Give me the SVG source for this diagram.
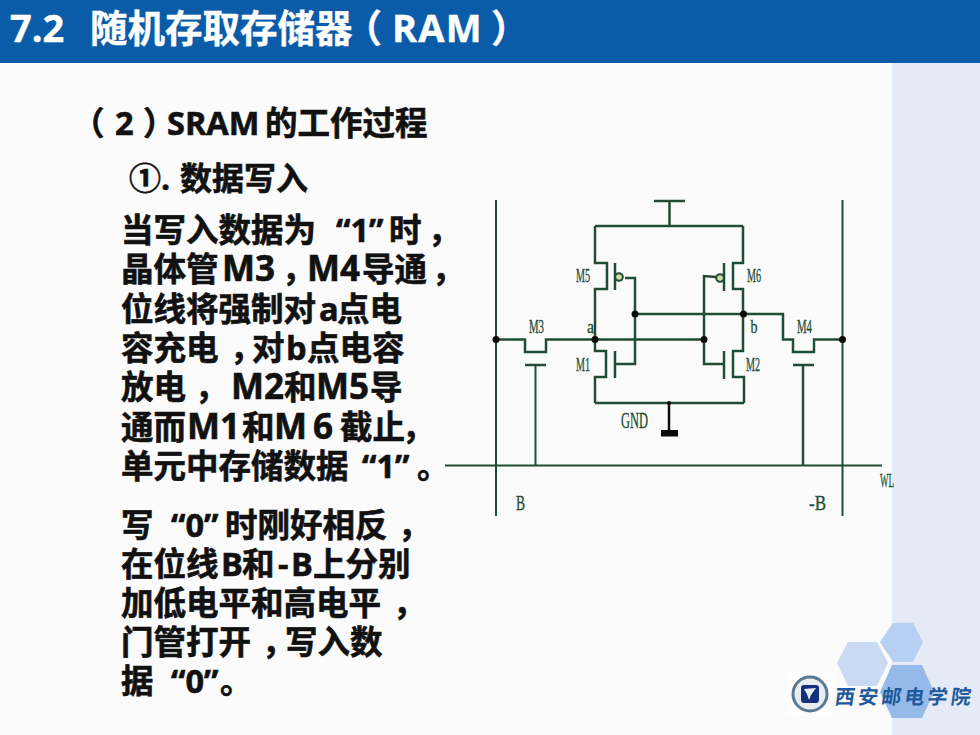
<svg xmlns="http://www.w3.org/2000/svg" width="980" height="735" viewBox="0 0 980 735">
<style>
text{white-space:pre}
.h{font-family:"Open Sans","Noto Sans CJK SC",sans-serif;font-weight:700;font-size:38px;fill:#fff;stroke:#fff;stroke-width:.4}
.t{font-family:"Open Sans","Noto Sans CJK SC",sans-serif;font-weight:700;fill:#111;stroke:#111;stroke-width:.6;font-size:32.500px}
.m{font-size:35px}
.w{fill:none;stroke:#1f4d35;stroke-width:2.500}
.n{fill:none;stroke:#1f4d35;stroke-width:2}
.l{font-family:"Liberation Serif","Noto Sans CJK SC",serif;font-size:19px;fill:#1f4d35;stroke:#1f4d35;stroke-width:.35}
.d{fill:#0a0a0a}
.b{fill:#d5dcb0;stroke:#1f4d35;stroke-width:2}
</style>
<rect width="980" height="735" fill="#fbfbfb"/>
<rect x="892" y="63" width="88" height="672" fill="#e4ebf7"/>
<rect width="980" height="63" fill="#0a5ca9"/>
<text class="h" y="42"><tspan x="10">7.2</tspan><tspan x="90" style="font-size:37.500px">随机存取存储器</tspan><tspan x="344">（</tspan><tspan x="392" style="letter-spacing:1.200px">RAM</tspan><tspan x="491">）</tspan></text>
<g id="body-text">
<text class="t" y="135"><tspan x="72">（</tspan><tspan x="115">2</tspan><tspan x="143">）</tspan><tspan x="167">SRAM</tspan><tspan x="265">的工作过程</tspan></text>
<text class="t" y="190" style="font-size:32px"><tspan x="129">①.</tspan><tspan x="180">数据写入</tspan></text>
<text class="t" y="242"><tspan x="121">当写入数据为</tspan><tspan x="336">“1”</tspan><tspan x="389">时</tspan><tspan x="428">，</tspan></text>
<text class="t" y="281"><tspan x="121">晶体管</tspan><tspan class="m" x="222">M3</tspan><tspan x="282">，</tspan><tspan class="m" x="307">M4</tspan><tspan x="362">导通</tspan><tspan x="432">，</tspan></text>
<text class="t" y="321"><tspan x="121">位线将强制对</tspan><tspan x="319">a</tspan><tspan x="337">点电</tspan></text>
<text class="t" y="360"><tspan x="121">容充电</tspan><tspan x="230">，</tspan><tspan x="252">对</tspan><tspan x="286">b</tspan><tspan x="307">点电容</tspan></text>
<text class="t" y="399"><tspan x="121">放电</tspan><tspan x="195">，</tspan><tspan class="m" x="231">M2</tspan><tspan x="284">和</tspan><tspan class="m" x="316">M5</tspan><tspan x="370">导</tspan></text>
<text class="t" y="439"><tspan x="121">通而</tspan><tspan class="m" x="187">M1</tspan><tspan x="242">和</tspan><tspan class="m" x="274" style="letter-spacing:6px">M6</tspan><tspan x="340">截止</tspan><tspan x="402">，</tspan></text>
<text class="t" y="478"><tspan x="121">单元中存储数据</tspan><tspan x="362">“1”</tspan><tspan x="417">。</tspan></text>
<text class="t" y="537"><tspan x="121">写</tspan><tspan x="171">“0”</tspan><tspan x="225">时刚好相反</tspan><tspan x="398">，</tspan></text>
<text class="t" y="576"><tspan x="121">在位线</tspan><tspan x="221">B</tspan><tspan x="242">和</tspan><tspan x="278">-</tspan><tspan x="291">B</tspan><tspan x="313">上分别</tspan></text>
<text class="t" y="615"><tspan x="121">加低电平和高电平</tspan><tspan x="393">，</tspan></text>
<text class="t" y="654"><tspan x="121">门管打开</tspan><tspan x="262">，</tspan><tspan x="285">写入数</tspan></text>
<text class="t" y="693"><tspan x="121">据</tspan><tspan x="171">“0”</tspan><tspan x="220">。</tspan></text>
</g>
<g id="connectors">
<path class="n" d="M496 200V516M842.500 200V516M445 465.500H882"/>
<path class="w" d="M654 201H685M669.500 201V226M595 226H743"/>
<path class="w" d="M496 339.500H525V352H546V339.500H704"/>
<path class="w" d="M635 314H783V339.500H793V352H814V339.500H842.500"/>
<path class="w" d="M595 403H744"/>
<path class="w" d="M625 278H635V364H615M716 277L704 276V364H724"/>
</g>
<g id="M5"><path class="w" d="M595 226V263H607V289H595V339.500"/><path class="w" d="M615 263V290"/><circle class="b" cx="619" cy="277" r="3.800"/><text class="l" x="576" y="282" textLength="14" lengthAdjust="spacingAndGlyphs">M5</text></g>
<g id="M1"><path class="w" d="M595 339.500V351H606V377H595V403"/><path class="w" d="M615 351V378"/><text class="l" x="576" y="371" textLength="14" lengthAdjust="spacingAndGlyphs">M1</text></g>
<g id="M6"><path class="w" d="M743 226V263H733V289H743V314"/><path class="w" d="M724 263V291"/><circle class="b" cx="720" cy="278" r="3.800"/><text class="l" x="747" y="282" textLength="14" lengthAdjust="spacingAndGlyphs">M6</text></g>
<g id="M2"><path class="w" d="M743 314V351H733V377H744V403"/><path class="w" d="M724 351V379"/><text class="l" x="746" y="371" textLength="14" lengthAdjust="spacingAndGlyphs">M2</text></g>
<g id="M3"><path class="w" d="M525 365H546"/><path class="n" d="M535.500 365V465"/><text class="l" x="529" y="333" textLength="15" lengthAdjust="spacingAndGlyphs">M3</text></g>
<g id="M4"><path class="w" d="M793 365H814M803 365V465"/><text class="l" x="797" y="333" textLength="15" lengthAdjust="spacingAndGlyphs">M4</text></g>
<g id="dots">
<circle class="d" cx="496" cy="339.500" r="3.500"/><circle class="d" cx="595" cy="339.500" r="3.500"/><circle class="d" cx="704" cy="339.500" r="3.500"/><circle class="d" cx="842.500" cy="339.500" r="3.500"/><circle class="d" cx="635" cy="314" r="3.500"/><circle class="d" cx="743.500" cy="314" r="3.500"/>
</g>
<g id="GND"><circle class="d" cx="669" cy="403" r="2"/><path d="M669 403V432" stroke="#0a0a0a" stroke-width="2.500" fill="none"/><rect class="d" x="661" y="430" width="17" height="6.500"/><text class="l" x="621" y="428" textLength="27" lengthAdjust="spacingAndGlyphs" style="font-size:23px">GND</text></g>
<text class="l" x="516" y="510" textLength="9" lengthAdjust="spacingAndGlyphs" style="font-size:21px">B</text>
<text class="l" x="809" y="510" textLength="17" lengthAdjust="spacingAndGlyphs" style="font-size:21px">-B</text>
<text class="l" x="880" y="487" textLength="14" lengthAdjust="spacingAndGlyphs">WL</text>
<text class="l" x="587" y="333" textLength="7" lengthAdjust="spacingAndGlyphs">a</text>
<text class="l" x="750.500" y="333" textLength="7" lengthAdjust="spacingAndGlyphs">b</text>
<g id="logo">
<polygon points="880,642 893,623 913,623 923,642 913,662 893,662" fill="#b6cff2"/>
<polygon points="837,663 848,642 877,642 888,663 877,686 848,686" fill="#c8daf4"/>
<polygon points="880,692 892,665 922,665 934,692 922,718 892,718" fill="#95b9e9"/>
<rect x="786" y="672" width="48" height="44" fill="#fdfdfd"/>
<circle cx="810" cy="694" r="17" fill="#e8ecef" stroke="#5a7a94" stroke-width="3"/>
<rect x="801" y="685" width="18" height="18" rx="3" fill="#14307a"/>
<path d="M804 689L816 688L811 695L809 700L807 694Z" fill="#e8ecf4"/>
<text transform="translate(834 704) skewX(-8)" style="font-family:'Noto Sans CJK SC',sans-serif;font-weight:700;font-size:20px;fill:#1f5a9c" textLength="136" lengthAdjust="spacing">西安邮电学院</text>
</g>
</svg>
